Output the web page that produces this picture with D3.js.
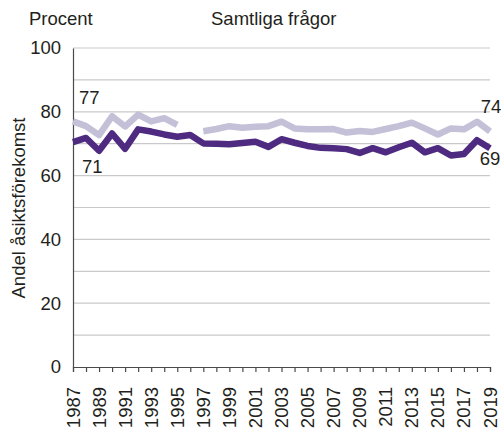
<!DOCTYPE html>
<html lang="sv">
<head>
    <meta charset="UTF-8">
    <title>Samtliga frågor</title>
    <script src="https://d3js.org/d3.v7.min.js"></script>
    <style>
        body { margin: 0; background: #fff; }
        text { font-family: "Liberation Sans", Arial, sans-serif; fill: #231f20; }
    </style>
</head>
<body>
<script>
    const years = d3.range(1987, 2020);
    const lightSeries = [77.0, 75.5, 72.7, 78.6, 75.4, 79.1, 77.0, 78.0, 75.9, null,
        73.9, 74.6, 75.5, 75.0, 75.3, 75.5, 76.9, 74.8, 74.5, 74.5, 74.6, 73.5,
        74.0, 73.7, 74.6, 75.5, 76.6, 74.8, 72.9, 74.8, 74.5, 76.9, 73.9];
    const darkSeries = [70.5, 71.8, 67.8, 73.2, 68.4, 74.5, 73.8, 72.9, 72.2, 72.7,
        70.1, 70.0, 69.8, 70.2, 70.6, 69.0, 71.4, 70.3, 69.3, 68.7, 68.6, 68.3,
        67.1, 68.6, 67.3, 68.9, 70.3, 67.3, 68.6, 66.3, 66.8, 71.1, 68.6];
    const gridValues = d3.range(0, 101, 10);
    const tickValues = [0, 20, 40, 60, 80, 100];
    const yearLabels = d3.range(1987, 2020, 2);
    // end labels: [year, value, text, dx, dy]
    const endLabels = [[1987, 77, "77", 6, -17], [1987, 71, "71", 9, 32],
                       [2019, 74, "74", 1, -18], [2019, 69, "69", 0, 18]];

    const WIDTH = 501, HEIGHT = 431;
    const FONT = 18.5;
    const x = d3.scaleLinear().domain([1987, 2019]).range([73, 490]);
    const y = d3.scaleLinear().domain([0, 100]).range([367, 48]);

    const svg = d3.select("body").append("svg").attr("width", WIDTH).attr("height", HEIGHT);

    // grid
    svg.append("g").selectAll("line").data(gridValues.filter(d => d > 0)).join("line")
        .attr("x1", x(1987)).attr("x2", x(2019))
        .attr("y1", d => y(d)).attr("y2", d => y(d))
        .attr("stroke", "#c9c9c9").attr("stroke-width", 1.2);

    // y axis
    const yAxis = svg.append("g").attr("transform", `translate(${x(1987)},0)`)
        .call(d3.axisLeft(y).tickValues(tickValues).tickSize(0).tickPadding(12));
    yAxis.select(".domain").attr("stroke", "#4a4a4a").attr("stroke-width", 1.2);
    yAxis.selectAll("text").style("font-size", FONT + "px").attr("fill", "#231f20");

    // x axis
    const xAxis = svg.append("g").attr("transform", `translate(0,${y(0)})`)
        .call(d3.axisBottom(x).tickValues(years).tickSize(5).tickFormat(""));
    xAxis.select(".domain").attr("stroke", "#4a4a4a").attr("stroke-width", 1.2);
    xAxis.selectAll("line").attr("stroke", "#4a4a4a").attr("stroke-width", 1.2);

    svg.append("g").selectAll("text").data(yearLabels).join("text")
        .attr("transform", d => `translate(${x(d) + 6.5},387) rotate(-90)`)
        .attr("text-anchor", "end")
        .style("font-size", FONT + "px")
        .text(d => d);

    // lines
    const line = d3.line()
        .defined(d => d[1] != null)
        .x(d => x(d[0])).y(d => y(d[1]));

    svg.append("path").datum(years.map((yr, i) => [yr, lightSeries[i]]))
        .attr("d", line).attr("fill", "none")
        .attr("stroke", "#c4c0d7").attr("stroke-width", 6.5).attr("stroke-linejoin", "round");
    svg.append("path").datum(years.map((yr, i) => [yr, darkSeries[i]]))
        .attr("d", line).attr("fill", "none")
        .attr("stroke", "#4e2b80").attr("stroke-width", 6.5).attr("stroke-linejoin", "round");

    svg.append("g").selectAll("text").data(endLabels).join("text")
        .attr("x", d => x(d[0]) + d[3]).attr("y", d => y(d[1]) + d[4])
        .attr("text-anchor", d => d[0] === 2019 ? "middle" : "start")
        .style("font-size", FONT + "px")
        .text(d => d[2]);

    // titles
    svg.append("text").attr("x", 29).attr("y", 25).style("font-size", FONT + "px").text("Procent");
    svg.append("text").attr("x", 211).attr("y", 25).style("font-size", FONT + "px").text("Samtliga frågor");
    svg.append("text")
        .attr("transform", "translate(25,208) rotate(-90)")
        .attr("text-anchor", "middle")
        .style("font-size", FONT + "px")
        .text("Andel åsiktsförekomst");
</script>
</body>
</html>
